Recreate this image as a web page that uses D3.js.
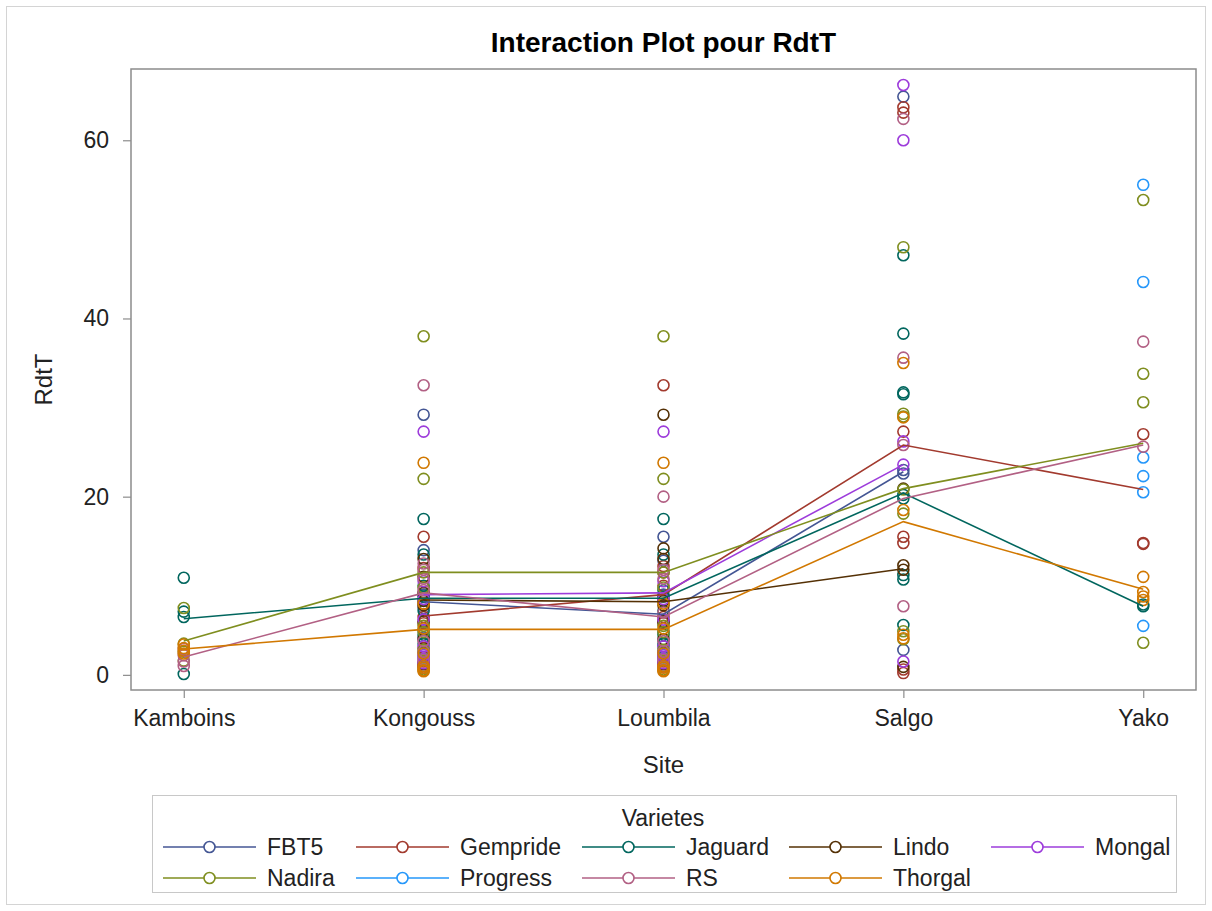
<!DOCTYPE html>
<html>
<head>
<meta charset="utf-8">
<script src="https://cdn.jsdelivr.net/npm/d3@7"></script>
<style>
  body { margin: 0; background: #fff; }
  text { font-family: "Liberation Sans", Arial, sans-serif; }
</style>
</head>
<body>
<div class="chart"></div>
<script>
// categories
const sites = ["Kamboins", "Kongouss", "Loumbila", "Salgo", "Yako"];
const varietes = ["FBT5", "Gempride", "Jaguard", "Lindo", "Mongal", "Nadira", "Progress", "RS", "Thorgal"];
const couleurs = ["#445694", "#A23A2E", "#01665E", "#543005", "#9D3CDB", "#7F8E1F", "#2597FA", "#B26084", "#D17800"];
const yTicks = [0, 20, 40, 60];

// means per site (null = no data), one array per variety
const moyFBT5 = [null, 8.2, 6.8, 22.8, null];
const moyGempride = [null, 6.6, 9.0, 25.8, 20.8];
const moyJaguard = [6.3, 8.6, 8.6, 20.4, 7.7];
const moyLindo = [null, 8.4, 8.2, 11.9, null];
const moyMongal = [null, 9.0, 9.2, 23.6, null];
const moyNadira = [3.8, 11.5, 11.5, 20.9, 26.0];
const moyProgress = [null, null, null, null, 28.6];
const moyRS = [2.0, 9.2, 6.5, 19.8, 25.8];
const moyThorgal = [2.9, 5.1, 5.1, 17.2, 9.6];

// observations per site, one array per variety
const obsFBT5 = [[], [29.2, 14.0, 9.0, 7.5, 5.0, 4.2, 2.0, 1.0], [15.5, 12.8, 9.0, 6.0, 4.8, 3.2, 2.0, 1.0], [64.9, 23.0, 22.6, 2.8], []];
const obsGempride = [[], [15.5, 12.0, 8.0, 6.5, 5.8, 3.0, 1.5, 0.8], [32.5, 12.2, 11.5, 10.0, 6.5, 5.8, 2.5, 1.5], [63.7, 63.1, 27.3, 15.5, 14.8, 0.6, 0.2], [27.0, 14.8, 14.7]];
const obsJaguard = [[10.9, 7.1, 6.5, 0.1], [17.5, 13.5, 10.0, 8.8, 7.2, 4.5, 3.5, 2.5], [17.5, 13.5, 9.5, 8.8, 7.2, 4.5, 3.5, 2.5], [47.1, 38.3, 31.7, 31.5, 20.2, 19.8, 11.2, 10.7, 5.6], [7.7, 7.9]];
const obsLindo = [[], [13.0, 11.0, 9.2, 8.3, 7.8, 6.0, 4.0, 1.2], [29.2, 14.2, 13.0, 8.3, 7.8, 6.0, 4.0, 1.2], [20.9, 12.3, 11.8, 0.9], []];
const obsMongal = [[], [27.3, 10.5, 8.5, 6.2, 3.2, 2.2, 1.8, 1.3], [27.3, 10.5, 8.5, 6.2, 3.2, 2.2, 1.8, 1.3], [66.2, 60.0, 26.2, 23.6, 1.5], []];
const obsNadira = [[7.5, 3.5, 2.6, 1.6], [38.0, 22.0, 11.5, 9.8, 5.5, 4.8, 2.8, 0.6], [38.0, 22.0, 11.5, 9.8, 5.5, 4.8, 2.8, 0.6], [48.0, 29.3, 29.0, 20.8, 18.1, 4.9, 4.0], [53.3, 33.8, 30.6, 3.6]];
const obsProgress = [[], [], [], [], [55.0, 44.1, 24.4, 22.3, 20.5, 5.5]];
const obsRS = [[2.9, 2.2, 1.5, 1.0], [32.5, 12.5, 11.8, 10.8, 9.5, 3.8, 2.6, 1.7], [20.0, 11.8, 10.8, 7.0, 3.8, 2.6, 1.7, 0.9], [62.4, 35.6, 25.8, 7.7], [37.4, 25.6]];
const obsThorgal = [[3.4, 3.0, 2.7, 2.4], [23.8, 8.0, 5.2, 2.4, 1.0, 0.8, 0.5, 0.4], [23.8, 8.0, 5.2, 2.4, 1.0, 0.8, 0.5, 0.4], [35.0, 28.9, 18.5, 4.5, 4.1], [11.0, 9.3, 8.8, 8.4]];

const moyennes = [moyFBT5, moyGempride, moyJaguard, moyLindo, moyMongal, moyNadira, moyProgress, moyRS, moyThorgal];
const observations = [obsFBT5, obsGempride, obsJaguard, obsLindo, obsMongal, obsNadira, obsProgress, obsRS, obsThorgal];

const series = varietes.map((name, i) => ({
  name,
  color: couleurs[i],
  means: moyennes[i],
  obs: observations[i]
}));

const width = 1212;
const height = 911;
const plot = { left: 131, right: 1196, top: 69, bottom: 690 };

const svg = d3
  .select(".chart")
  .append("svg")
  .attr("width", width)
  .attr("height", height);

// outer border
svg
  .append("rect")
  .attr("x", 6.5)
  .attr("y", 6.5)
  .attr("width", 1199)
  .attr("height", 898)
  .attr("fill", "none")
  .attr("stroke", "#d4d4d4");

const x = d3
  .scalePoint()
  .domain(sites)
  .range([plot.left, plot.right])
  .padding(0.22);

const y = d3
  .scaleLinear()
  .domain([-1.7, 68])
  .range([plot.bottom, plot.top]);

svg
  .append("text")
  .attr("x", (plot.left + plot.right) / 2)
  .attr("y", 52)
  .attr("text-anchor", "middle")
  .style("font-size", "28px")
  .style("font-weight", "bold")
  .attr("fill", "#000")
  .text("Interaction Plot pour RdtT");

// axes
const xAxis = svg
  .append("g")
  .attr("transform", `translate(0, ${plot.bottom})`)
  .call(d3.axisBottom(x).tickSize(8).tickPadding(12));
const yAxis = svg
  .append("g")
  .attr("transform", `translate(${plot.left}, 0)`)
  .call(d3.axisLeft(y).tickValues(yTicks).tickSize(8).tickPadding(14));

[xAxis, yAxis].forEach(g => {
  g.select(".domain").remove();
  g.selectAll(".tick line").attr("stroke", "#8c8c8c").attr("stroke-width", 1.2);
  g.selectAll(".tick text")
    .attr("fill", "#222")
    .style("font-size", "23px")
    .style("font-family", "'Liberation Sans', Arial, sans-serif");
});

svg
  .append("text")
  .attr("x", (plot.left + plot.right) / 2)
  .attr("y", 773)
  .attr("text-anchor", "middle")
  .style("font-size", "24px")
  .attr("fill", "#222")
  .text("Site");

svg
  .append("text")
  .attr("transform", `translate(52, ${(plot.top + plot.bottom) / 2}) rotate(-90)`)
  .attr("text-anchor", "middle")
  .style("font-size", "24px")
  .attr("fill", "#222")
  .text("RdtT");

// plot frame
svg
  .append("rect")
  .attr("x", plot.left)
  .attr("y", plot.top)
  .attr("width", plot.right - plot.left)
  .attr("height", plot.bottom - plot.top)
  .attr("fill", "none")
  .attr("stroke", "#8c8c8c")
  .attr("stroke-width", 1.5);

// observations
const groups = svg.append("g").selectAll("g").data(series).enter().append("g");

groups
  .selectAll("circle")
  .data(s => s.obs.flatMap((vals, i) => vals.map(v => ({ site: sites[i], v, color: s.color }))))
  .enter()
  .append("circle")
  .attr("cx", d => x(d.site))
  .attr("cy", d => y(d.v))
  .attr("r", 5.5)
  .attr("fill", "none")
  .attr("stroke", d => d.color)
  .attr("stroke-width", 1.6);

// mean lines
const line = d3
  .line()
  .defined(d => d.v !== null)
  .x(d => x(d.site))
  .y(d => y(d.v));

svg
  .append("g")
  .selectAll("path")
  .data(series)
  .enter()
  .append("path")
  .attr("d", s => line(s.means.map((v, i) => ({ site: sites[i], v }))))
  .attr("fill", "none")
  .attr("stroke", s => s.color)
  .attr("stroke-width", 1.6);

// legend
const legend = svg.append("g");
legend
  .append("rect")
  .attr("x", 152.5)
  .attr("y", 795.5)
  .attr("width", 1024)
  .attr("height", 97)
  .attr("fill", "none")
  .attr("stroke", "#c8c8c8");

legend
  .append("text")
  .attr("x", 663)
  .attr("y", 826)
  .attr("text-anchor", "middle")
  .style("font-size", "23px")
  .attr("fill", "#222")
  .text("Varietes");

const colX = [163, 356, 582, 789, 991];
const rowY = [847, 878];

const items = legend
  .selectAll(".item")
  .data(series)
  .enter()
  .append("g")
  .attr("class", "item")
  .attr("transform", (d, i) => `translate(${colX[i % 5]}, ${rowY[Math.floor(i / 5)]})`);

items
  .append("line")
  .attr("x1", 0)
  .attr("x2", 93)
  .attr("stroke", d => d.color)
  .attr("stroke-width", 1.6);

items
  .append("circle")
  .attr("cx", 46.5)
  .attr("r", 5.5)
  .attr("fill", "#fff")
  .attr("stroke", d => d.color)
  .attr("stroke-width", 1.6);

items
  .append("text")
  .attr("x", 104)
  .attr("dy", "0.35em")
  .style("font-size", "23px")
  .attr("fill", "#222")
  .text(d => d.name);
</script>
</body>
</html>
